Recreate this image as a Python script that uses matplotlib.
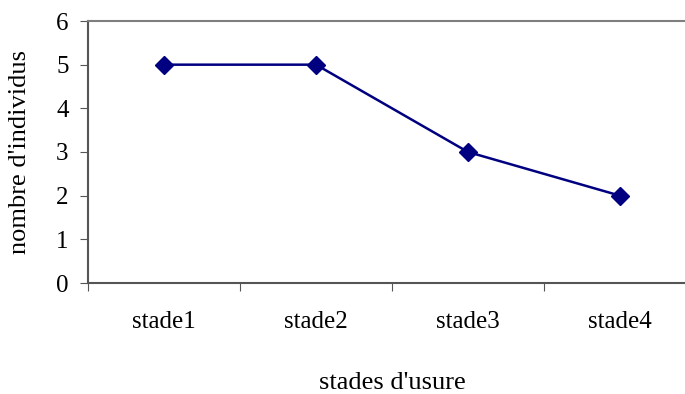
import matplotlib.pyplot as plt
from matplotlib.ticker import FixedLocator, NullFormatter

stades = ['stade1', 'stade2', 'stade3', 'stade4']
individus = [5, 5, 3, 2]

plt.rcParams['font.family'] = ['Liberation Serif', 'DejaVu Serif']

fig = plt.figure(figsize=(6.85, 3.94), dpi=100)
ax = fig.add_axes([88/685, 111/394, 608/685, 262/394])

x = [i + 0.5 for i in range(len(stades))]
ax.plot(x, individus, color='#000080', linewidth=1.8, marker='D', markersize=9.5,
        markerfacecolor='#000080', markeredgecolor='#000080')

ax.set_xlim(0, len(stades))
ax.set_ylim(0, 6)
ax.set_yticks(range(0, 7))
ax.xaxis.set_major_locator(FixedLocator(range(0, len(stades) + 1)))
ax.xaxis.set_major_formatter(NullFormatter())
ax.xaxis.set_minor_locator(FixedLocator(x))
ax.set_xticklabels(stades, minor=True)
ax.tick_params(axis='x', which='minor', length=0, pad=20, labelsize=18)
ax.tick_params(axis='x', which='major', length=6, color='#555555', direction='out')
ax.tick_params(axis='y', length=6, color='#555555', labelsize=18, pad=8)

for s in ['left', 'bottom', 'top']:
    ax.spines[s].set_color('#7f7f7f')
    ax.spines[s].set_linewidth(1.5)
ax.spines['left'].set_color('#555555')
ax.spines['bottom'].set_color('#555555')
ax.spines['right'].set_visible(False)

ax.set_xlabel("stades d'usure", fontsize=19, labelpad=28)
ax.set_ylabel("nombre d'individus", fontsize=19, labelpad=18)

fig.savefig('out.png', dpi=100)
